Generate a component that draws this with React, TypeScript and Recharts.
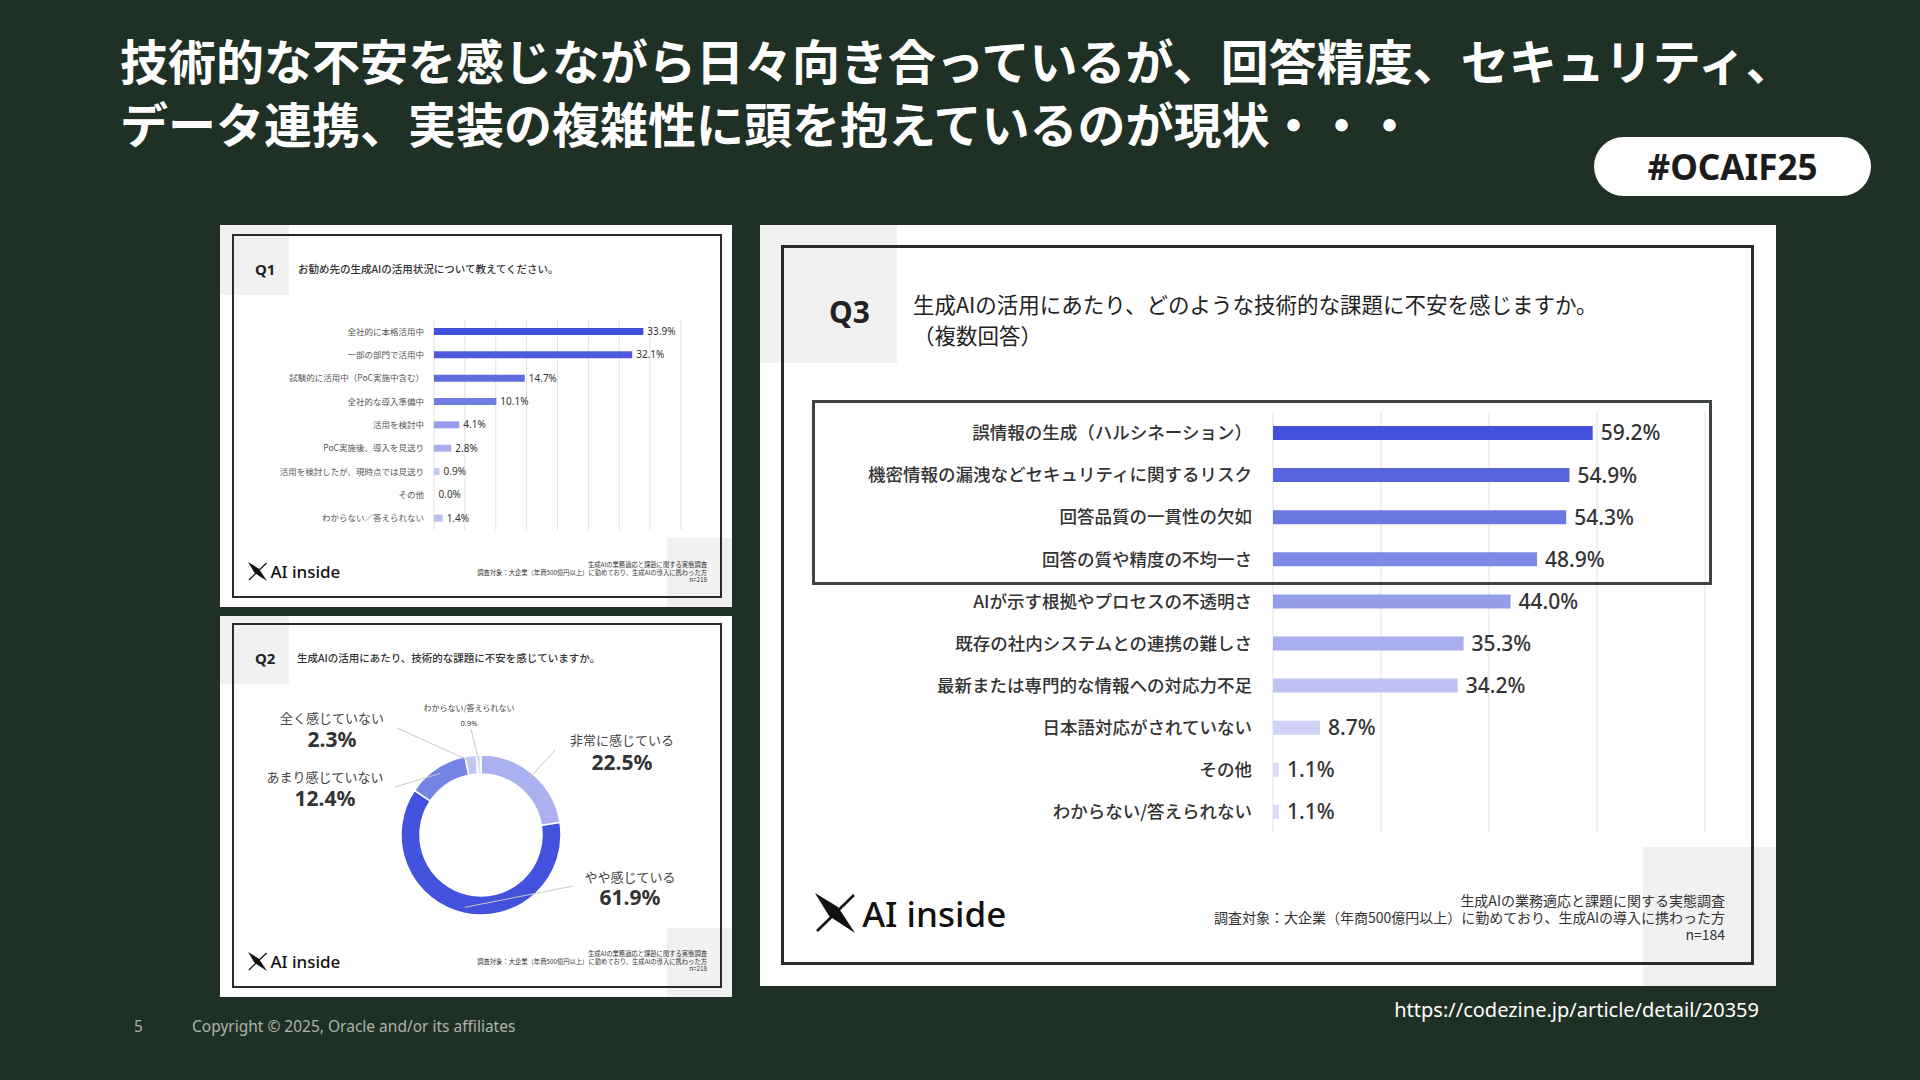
import { BarChart, Bar, XAxis, YAxis, CartesianGrid, LabelList, Cell, PieChart, Pie } from 'recharts'

const q1Categories = [
  '全社的に本格活用中',
  '一部の部門で活用中',
  '試験的に活用中（PoC実施中含む）',
  '全社的な導入準備中',
  '活用を検討中',
  'PoC実施後、導入を見送り',
  '活用を検討したが、現時点では見送り',
  'その他',
  'わからない／答えられない',
]
const q1Values = [33.9, 32.1, 14.7, 10.1, 4.1, 2.8, 0.9, 0.0, 1.4]
const q1Ticks = [0, 5, 10, 15, 20, 25, 30, 35, 40]
const q1Colors = ['#3e4fd8', '#4e5cdc', '#5f6cdf', '#6f7ce2', '#949eea', '#a6aeee', '#c3c7f3', '#c3c7f3', '#b9bff1']

const q2Categories = ['非常に感じている', 'やや感じている', 'あまり感じていない', '全く感じていない', 'わからない/答えられない']
const q2Values = [22.5, 61.9, 12.4, 2.3, 0.9]
const q2Colors = ['#aab1ee', '#4352dc', '#7583e4', '#c0c6f3', '#e0e3f9']

const q3Categories = [
  '誤情報の生成（ハルシネーション）',
  '機密情報の漏洩などセキュリティに関するリスク',
  '回答品質の一貫性の欠如',
  '回答の質や精度の不均一さ',
  'AIが示す根拠やプロセスの不透明さ',
  '既存の社内システムとの連携の難しさ',
  '最新または専門的な情報への対応力不足',
  '日本語対応がされていない',
  'その他',
  'わからない/答えられない',
]
const q3Values = [59.2, 54.9, 54.3, 48.9, 44.0, 35.3, 34.2, 8.7, 1.1, 1.1]
const q3Ticks = [0, 20, 40, 60, 80]
const q3Colors = ['#4352dc', '#5865e0', '#6a76e2', '#7f8ae6', '#959eea', '#a8aeee', '#bfc3f3', '#d0d3f7', '#dcdef9', '#dcdef9']

const q1Data = q1Categories.map((name, i) => ({ name, value: q1Values[i] }))
const q2Data = q2Categories.map((name, i) => ({ name, value: q2Values[i] }))
const q3Data = q3Categories.map((name, i) => ({ name, value: q3Values[i] }))

// donut label layout, offsets from the pie centre: [lineEnd, nameCentre, valueCentre]
const donutLabelLayout = [
  { line: [74, -85], name: [141, -96], value: [141, -73], big: true },
  { line: [92, 51], name: [149, 41], value: [149, 62], big: true },
  { line: [-86, -48], name: [-156, -59], value: [-156, -37], big: true },
  { line: [-84, -107], name: [-149, -118], value: [-149, -96], big: true },
  { line: [-10, -106], name: [-12, -128], value: [-12, -112], big: false },
]

const JP = "'Noto Sans CJK JP', 'Noto Sans', sans-serif"
const pct = (v: any) => `${Number(v).toFixed(1)}%`

function XMark({ size }: { size: number }) {
  return (
    <svg width={size} height={size} viewBox="0 0 40 40">
      <path d="M0 0 L23 14 L40 40 L14 23 Z" fill="#111" />
      <path d="M39 2 L2 38" stroke="#111" strokeWidth={2.6} />
    </svg>
  )
}

function Logo({ x, y, size, font }: { x: number; y: number; size: number; font: number }) {
  return (
    <div style={{ position: 'absolute', left: x, top: y, display: 'flex', alignItems: 'center', gap: size * 0.18 }}>
      <XMark size={size} />
      <span style={{ fontFamily: "'Noto Sans', sans-serif", fontSize: font, fontWeight: 500, color: '#111', lineHeight: 1 }}>AI inside</span>
    </div>
  )
}

function Panel({ x, y, w, h, bx, by, bw, bh, border, corner, corner2 }: any) {
  return (
    <>
      <div style={{ position: 'absolute', left: x, top: y, width: w, height: h, background: '#fff' }} />
      <div style={{ position: 'absolute', left: x, top: y, width: corner[0], height: corner[1], background: '#f1f1f1' }} />
      <div style={{ position: 'absolute', left: x + w - corner2[0], top: y + h - corner2[1], width: corner2[0], height: corner2[1], background: '#f1f1f1' }} />
      <div style={{ position: 'absolute', left: bx, top: by, width: bw, height: bh, border: `${border}px solid #2a2a2a`, boxSizing: 'border-box' }} />
    </>
  )
}

function Source({ right, top, font, n }: { right: number; top: number; font: number; n: string }) {
  return (
    <div style={{ position: 'absolute', right, top, textAlign: 'right', fontSize: font, lineHeight: 1.2, color: '#333' }}>
      <div>生成AIの業務適応と課題に関する実態調査</div>
      <div>調査対象：大企業（年商500億円以上）に勤めており、生成AIの導入に携わった方</div>
      <div>{n}</div>
    </div>
  )
}

function DonutLabel(props: any) {
  const { cx, cy, midAngle, index, payload } = props
  const lay = donutLabelLayout[index]
  const RAD = Math.PI / 180
  const r = 74
  const sx = cx + r * Math.cos(-midAngle * RAD)
  const sy = cy + r * Math.sin(-midAngle * RAD)
  const value = payload?.value ?? props.value
  const name = payload?.name ?? props.name
  return (
    <g>
      <line x1={sx} y1={sy} x2={cx + lay.line[0]} y2={cy + lay.line[1]} stroke="#c9c9c9" strokeWidth={1} />
      <text x={cx + lay.name[0]} y={cy + lay.name[1]} textAnchor="middle" dominantBaseline="central" fill="#444" fontSize={lay.big ? 13 : 8}>
        {name}
      </text>
      <text
        x={cx + lay.value[0]}
        y={cy + lay.value[1]}
        textAnchor="middle"
        dominantBaseline="central"
        fill="#333"
        fontSize={lay.big ? 21 : 7.5}
        fontWeight={lay.big ? 700 : 400}
        fontFamily="'Noto Sans', sans-serif"
      >
        {pct(value)}
      </text>
    </g>
  )
}

export default function App() {
  return (
    <div style={{ position: 'absolute', left: 0, top: 0, width: 1920, height: 1080, background: '#1f3024', overflow: 'hidden', fontFamily: JP }}>
      {/* headline */}
      <div style={{ position: 'absolute', left: 120, top: 28, color: '#fff', fontSize: 48, fontWeight: 700, lineHeight: '63px', letterSpacing: 0 }}>
        <div>技術的な不安を感じながら日々向き合っているが、回答精度、セキュリティ、</div>
        <div>データ連携、実装の複雑性に頭を抱えているのが現状・・・</div>
      </div>
      <div
        style={{
          position: 'absolute', left: 1594, top: 137, width: 277, height: 59, borderRadius: 30, background: '#fff',
          display: 'flex', alignItems: 'center', justifyContent: 'center', fontFamily: "'Noto Sans', sans-serif",
          fontWeight: 700, fontSize: 35, color: '#1c1c1c',
        }}
      >
        #OCAIF25
      </div>

      {/* Q1 */}
      <Panel x={220} y={225} w={512} h={382} bx={232} by={234} bw={490} bh={364} border={2} corner={[69, 70]} corner2={[65, 69]} />
      <div style={{ position: 'absolute', left: 255, top: 259, fontSize: 15, fontWeight: 700, color: '#222', lineHeight: '20px', fontFamily: "'Noto Sans', sans-serif" }}>Q1</div>
      <div style={{ position: 'absolute', left: 298, top: 262, fontSize: 10.5, fontWeight: 500, color: '#333', lineHeight: '14px' }}>お勧め先の生成AIの活用状況について教えてください。</div>
      <div style={{ position: 'absolute', left: 236, top: 315 }}>
        <BarChart width={460} height={220} data={q1Data} layout="vertical" margin={{ top: 5, right: 15, bottom: 5, left: 0 }}>
          <CartesianGrid horizontal={false} stroke="#e3e3e3" />
          <XAxis type="number" domain={[0, 40]} ticks={q1Ticks} hide />
          <YAxis type="category" dataKey="name" width={198} tickSize={0} tickMargin={10} axisLine={false} tickLine={false} interval={0} tick={{ fill: '#555', fontSize: 8.5 }} />
          <Bar dataKey="value" barSize={7} minPointSize={0.5} isAnimationActive={false}>
            {q1Data.map((d, i) => (
              <Cell key={d.name} fill={d.value === 0 ? 'none' : q1Colors[i]} />
            ))}
            <LabelList dataKey="value" position="right" offset={4} formatter={pct} fill="#333" fontSize={10} fontFamily="'Noto Sans', sans-serif" />
          </Bar>
        </BarChart>
      </div>
      <Logo x={248} y={562} size={19} font={17} />
      <Source right={1920 - 707} top={561} font={6.3} n="n=218" />

      {/* Q2 */}
      <Panel x={220} y={616} w={512} h={381} bx={232} by={623} bw={490} bh={365} border={2} corner={[69, 68]} corner2={[65, 69]} />
      <div style={{ position: 'absolute', left: 255, top: 648, fontSize: 15, fontWeight: 700, color: '#222', lineHeight: '20px', fontFamily: "'Noto Sans', sans-serif" }}>Q2</div>
      <div style={{ position: 'absolute', left: 297, top: 651, fontSize: 10.5, fontWeight: 500, color: '#333', lineHeight: '14px' }}>生成AIの活用にあたり、技術的な課題に不安を感じていますか。</div>
      <div style={{ position: 'absolute', left: 232, top: 623 }}>
        <PieChart width={490} height={365} margin={{ top: 0, right: 0, bottom: 0, left: 0 }}>
          <Pie
            data={q2Data}
            dataKey="value"
            nameKey="name"
            cx={249}
            cy={212}
            innerRadius={61}
            outerRadius={80}
            startAngle={90}
            endAngle={-270}
            stroke="#fff"
            strokeWidth={1.5}
            labelLine={false}
            label={DonutLabel}
            isAnimationActive={false}
          >
            {q2Data.map((d, i) => (
              <Cell key={d.name} fill={q2Colors[i]} />
            ))}
          </Pie>
        </PieChart>
      </div>
      <Logo x={248} y={952} size={19} font={17} />
      <Source right={1920 - 707} top={950} font={6.3} n="n=218" />

      {/* Q3 */}
      <Panel x={760} y={225} w={1016} h={761} bx={781} by={245} bw={973} bh={720} border={3} corner={[137, 138]} corner2={[133, 139]} />
      <div style={{ position: 'absolute', left: 829, top: 292, fontSize: 30, fontWeight: 700, color: '#222', lineHeight: '40px', fontFamily: "'Noto Sans', sans-serif" }}>Q3</div>
      <div style={{ position: 'absolute', left: 913, top: 288, fontSize: 21.5, color: '#222', lineHeight: '31px' }}>
        生成AIの活用にあたり、どのような技術的な課題に不安を感じますか。
      </div>
      <div style={{ position: 'absolute', left: 913, top: 319, fontSize: 21.5, color: '#222', lineHeight: '31px' }}>（複数回答）</div>
      <div style={{ position: 'absolute', left: 790, top: 402 }}>
        <BarChart width={930} height={441} data={q3Data} layout="vertical" margin={{ top: 10, right: 15, bottom: 10, left: 0 }}>
          <CartesianGrid horizontal={false} stroke="#e2e2e6" />
          <XAxis type="number" domain={[0, 80]} ticks={q3Ticks} hide />
          <YAxis type="category" dataKey="name" width={483} tickSize={0} tickMargin={21} axisLine={false} tickLine={false} interval={0} tick={{ fill: '#333', fontSize: 17.5, fontWeight: 500 }} />
          <Bar dataKey="value" barSize={14} isAnimationActive={false}>
            {q3Data.map((d, i) => (
              <Cell key={d.name} fill={q3Colors[i]} />
            ))}
            <LabelList dataKey="value" position="right" offset={8} formatter={pct} fill="#333" fontSize={21} fontWeight={500} fontFamily="'Noto Sans', sans-serif" />
          </Bar>
        </BarChart>
      </div>
      <div style={{ position: 'absolute', left: 812, top: 400, width: 900, height: 185, border: '3px solid #3e4343', boxSizing: 'border-box' }} />
      <Logo x={815} y={893} size={40} font={35} />
      <Source right={1920 - 1725} top={892} font={14} n="n=184" />

      {/* footer */}
      <div style={{ position: 'absolute', right: 1920 - 1759, top: 997, color: '#fff', fontSize: 20, fontFamily: "'Noto Sans', sans-serif", lineHeight: '26px' }}>
        https://codezine.jp/article/detail/20359
      </div>
      <div style={{ position: 'absolute', left: 134, top: 1016, color: '#aeb4ab', fontSize: 15.5, fontFamily: "'Noto Sans', sans-serif", lineHeight: '20px' }}>5</div>
      <div style={{ position: 'absolute', left: 192, top: 1016, color: '#aeb4ab', fontSize: 15.5, fontFamily: "'Noto Sans', sans-serif", lineHeight: '20px' }}>
        Copyright © 2025, Oracle and/or its affiliates
      </div>
    </div>
  )
}
